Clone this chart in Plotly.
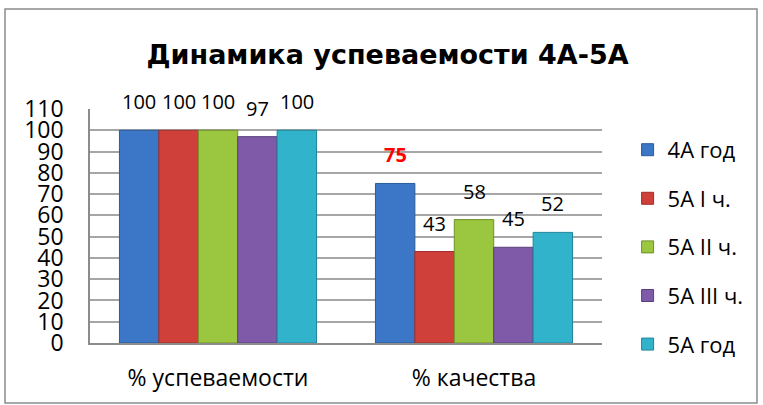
import plotly.graph_objects as go

categories = ["% успеваемости", "% качества"]
series_names = ["4А год", "5А I ч.", "5А II ч.", "5А III ч.", "5А год"]
values_4a_god = [100, 75]
values_5a_1 = [100, 43]
values_5a_2 = [100, 58]
values_5a_3 = [97, 45]
values_5a_god = [100, 52]
y_ticks = [0, 10, 20, 30, 40, 50, 60, 70, 80, 90, 100, 110]

series_values = [values_4a_god, values_5a_1, values_5a_2, values_5a_3, values_5a_god]
colors = ["#3b77c6", "#d0403b", "#9bc63f", "#7e5aa8", "#31b3cc"]
line_colors = ["#2a5a99", "#9e2e2b", "#6f9127", "#5b3f7d", "#1f8599"]

FONT = "Open Sans"
fig = go.Figure()
for name, vals, c, lc in zip(series_names, series_values, colors, line_colors):
    fig.add_trace(go.Bar(
        name=name, x=categories, y=vals,
        marker=dict(color=c, line=dict(color=lc, width=1)),
        legendgroup=name,
    ))

# data labels
bargap = 0.23
n = len(series_values)
bw = (1 - bargap) / n
annotations = []
for i, vals in enumerate(series_values):
    for j, v in enumerate(vals):
        special = (i == 0 and j == 1)
        annotations.append(dict(
            x=j + (i - (n - 1) / 2) * bw, y=v, xref="x", yref="y",
            text=f"<b>{v}</b>" if special else str(v),
            showarrow=False, yanchor="bottom", yshift=13,
            font=dict(family=FONT, size=20, color="#ff0000" if special else "#000000"),
        ))

fig.update_layout(
    width=763, height=405,
    margin=dict(l=90, r=161, t=109, b=62),
    paper_bgcolor="white", plot_bgcolor="white",
    barmode="group", bargap=bargap, bargroupgap=0,
    title=dict(text="<b>Динамика успеваемости 4А-5А</b>", x=0.508, xanchor="center",
               y=0.865, yanchor="middle",
               font=dict(family="DejaVu Sans", size=27, color="black")),
    font=dict(family=FONT, color="black"),
    legend=dict(x=1.05, xanchor="left", y=0.915, yanchor="top",
                font=dict(family=FONT, size=22, color="black"),
                tracegroupgap=17, bgcolor="rgba(0,0,0,0)", maxheight=400),
    annotations=annotations,
    shapes=[dict(type="rect", xref="paper", yref="paper",
                 x0=(5 - 90) / 512, x1=(757 - 90) / 512,
                 y0=(343 - 403) / 234, y1=(343 - 9) / 234,
                 line=dict(color="#8c8c8c", width=1.5), layer="below")],
)
fig.update_xaxes(showline=True, linecolor="#8c8c8c", linewidth=1.5,
                 ticks="outside", ticklen=14, tickcolor="rgba(0,0,0,0)",
                 tickfont=dict(family=FONT, size=23, color="black"))
fig.update_yaxes(range=[0, 110], tickvals=y_ticks, showgrid=True,
                 gridcolor="#a6a6a6", gridwidth=1.5,
                 showline=True, linecolor="#8c8c8c", linewidth=1.5,
                 ticks="outside", ticklen=20, tickcolor="rgba(0,0,0,0)",
                 tickfont=dict(family=FONT, size=23, color="black"),
                 zeroline=False)

fig.write_html("out.html", config={"displayModeBar": False},
               post_script="document.body.style.margin='0';")
